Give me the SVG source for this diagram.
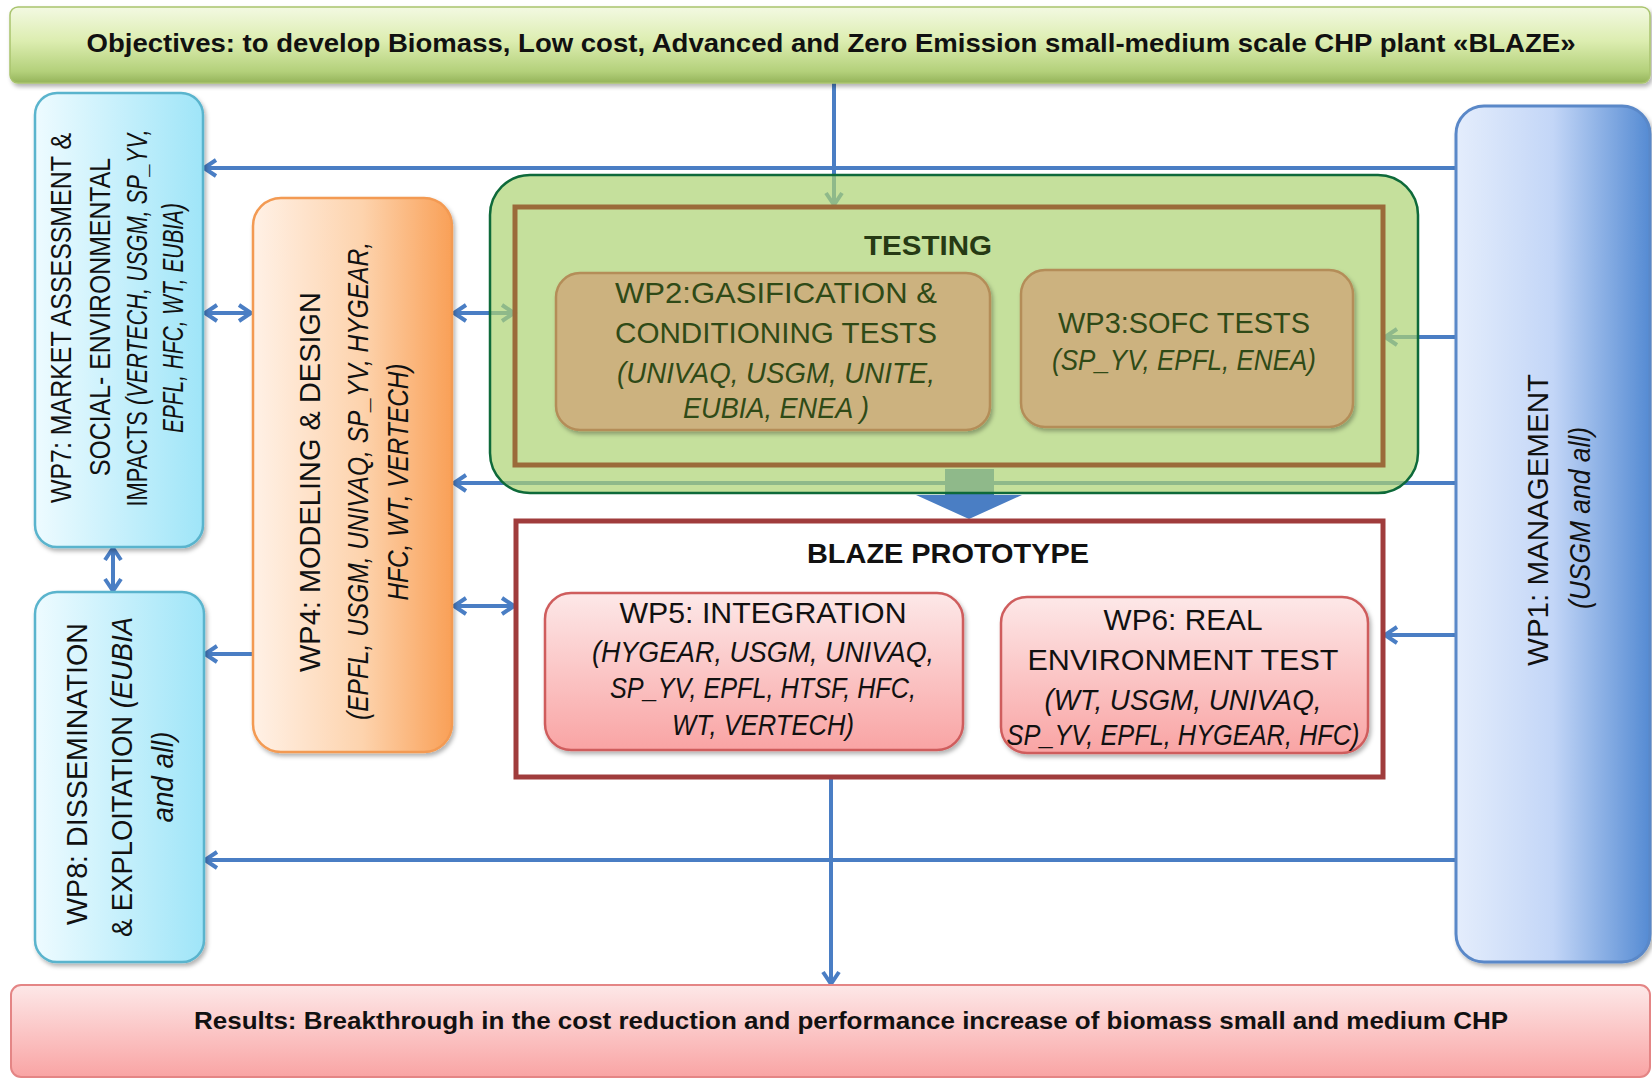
<svg xmlns="http://www.w3.org/2000/svg" width="1652" height="1078" viewBox="0 0 1652 1078">
<defs>
  <linearGradient id="gBanner" x1="0" y1="0" x2="0" y2="1">
    <stop offset="0" stop-color="#f3f9e2"/>
    <stop offset="0.45" stop-color="#dcedb0"/>
    <stop offset="0.85" stop-color="#b3d07a"/>
    <stop offset="1" stop-color="#94b35a"/>
  </linearGradient>
  <linearGradient id="gCyan" x1="0" y1="0" x2="1" y2="0">
    <stop offset="0" stop-color="#eefbff"/>
    <stop offset="1" stop-color="#9fe5f8"/>
  </linearGradient>
  <linearGradient id="gOrange" x1="0" y1="0" x2="1" y2="0">
    <stop offset="0" stop-color="#fff1e6"/>
    <stop offset="0.55" stop-color="#fdd3ad"/>
    <stop offset="1" stop-color="#f9a057"/>
  </linearGradient>
  <linearGradient id="gBlue" x1="0" y1="0" x2="1" y2="0">
    <stop offset="0" stop-color="#e4edfc"/>
    <stop offset="0.5" stop-color="#c3d6f7"/>
    <stop offset="1" stop-color="#558bd3"/>
  </linearGradient>
  <linearGradient id="gPink" x1="0" y1="0" x2="0" y2="1">
    <stop offset="0" stop-color="#fde8e8"/>
    <stop offset="1" stop-color="#f9a4a4"/>
  </linearGradient>
  <filter id="sh" x="-5%" y="-5%" width="115%" height="115%">
    <feDropShadow dx="2" dy="3" stdDeviation="2" flood-color="#000" flood-opacity="0.3"/>
  </filter>
  <marker id="ah" viewBox="0 0 22 20" refX="18" refY="10" markerWidth="22" markerHeight="20" markerUnits="userSpaceOnUse" orient="auto-start-reverse" overflow="visible">
    <path d="M6,2 L18,10 L6,18" fill="none" stroke="#4a7ec4" stroke-width="4"/>
  </marker>
</defs>
<style>
  .t{font-family:"Liberation Sans",Arial,sans-serif;font-size:29px;fill:#111;}
  .i{font-style:italic;}
  .b{font-weight:bold;}
  .g{fill:#2f4a17;}
  .c{stroke:#4a7ec4;stroke-width:4;fill:none;}
  .wpc{fill:url(#gCyan);stroke:#5ab4cd;stroke-width:2.5;}
  .wpp{fill:url(#gPink);stroke:#cf5d5d;stroke-width:2.5;}
  .wpt{fill:#ccb27f;stroke:#b48d58;stroke-width:2.5;}
</style>

<g id="connectors">
  <path class="c" d="M834,83 V205" marker-end="url(#ah)"/>
  <path class="c" d="M1456,168 H204" marker-end="url(#ah)"/>
  <path class="c" d="M205,313 H251" marker-start="url(#ah)" marker-end="url(#ah)"/>
  <path class="c" d="M454,313 H514" marker-start="url(#ah)" marker-end="url(#ah)"/>
  <path class="c" d="M1456,337 H1385" marker-end="url(#ah)"/>
  <path class="c" d="M1456,483 H454" marker-end="url(#ah)"/>
  <polygon points="945,469 994,469 994,495 1022,495 969,519 916,495 945,495" fill="#4a7ec4"/>
  <path class="c" d="M454,606 H514" marker-start="url(#ah)" marker-end="url(#ah)"/>
  <path class="c" d="M253,654 H205" marker-end="url(#ah)"/>
  <path class="c" d="M113,548 V591" marker-start="url(#ah)" marker-end="url(#ah)"/>
  <path class="c" d="M1456,635 H1385" marker-end="url(#ah)"/>
  <path class="c" d="M1456,860 H205" marker-end="url(#ah)"/>
  <path class="c" d="M831,778 V984" marker-end="url(#ah)"/>
</g>

<g id="objectives">
  <rect x="10" y="7" width="1640" height="76" rx="8" fill="url(#gBanner)" stroke="#a9c46e" stroke-width="1.5" filter="url(#sh)"/>
  <text class="t b" style="font-size:26px" x="831" y="52" text-anchor="middle" textLength="1489" lengthAdjust="spacingAndGlyphs">Objectives: to develop Biomass, Low cost, Advanced and Zero Emission small-medium scale CHP plant «BLAZE»</text>
</g>

<g id="wp7">
  <rect class="wpc" x="35" y="93" width="168" height="454" rx="22" filter="url(#sh)"/>
  <text class="t" transform="translate(71,318) rotate(-90)" text-anchor="middle" textLength="370" lengthAdjust="spacingAndGlyphs">WP7: MARKET ASSESSMENT &amp;</text>
  <text class="t" transform="translate(110,317) rotate(-90)" text-anchor="middle" textLength="318" lengthAdjust="spacingAndGlyphs">SOCIAL- ENVIRONMENTAL</text>
  <text class="t" transform="translate(147,318) rotate(-90)" text-anchor="middle" textLength="377" lengthAdjust="spacingAndGlyphs">IMPACTS <tspan class="i">(VERTECH, USGM, SP_YV,</tspan></text>
  <text class="t i" transform="translate(183,318) rotate(-90)" text-anchor="middle" textLength="230" lengthAdjust="spacingAndGlyphs">EPFL, HFC, WT, EUBIA)</text>
</g>

<g id="wp8">
  <rect class="wpc" x="35" y="592" width="169" height="370" rx="22" filter="url(#sh)"/>
  <text class="t" transform="translate(87,774) rotate(-90)" text-anchor="middle" textLength="302" lengthAdjust="spacingAndGlyphs">WP8: DISSEMINATION</text>
  <text class="t" transform="translate(132,777) rotate(-90)" text-anchor="middle" textLength="320" lengthAdjust="spacingAndGlyphs">&amp; EXPLOITATION <tspan class="i">(EUBIA</tspan></text>
  <text class="t i" transform="translate(173,777) rotate(-90)" text-anchor="middle" textLength="91" lengthAdjust="spacingAndGlyphs">and all)</text>
</g>

<g id="wp4">
  <rect x="253" y="198" width="199" height="554" rx="28" fill="url(#gOrange)" stroke="#f39a52" stroke-width="2.5" filter="url(#sh)"/>
  <text class="t" transform="translate(320,482) rotate(-90)" text-anchor="middle" textLength="380" lengthAdjust="spacingAndGlyphs">WP4: MODELING &amp; DESIGN</text>
  <text class="t i" transform="translate(368,481) rotate(-90)" text-anchor="middle" textLength="478" lengthAdjust="spacingAndGlyphs">(EPFL, USGM, UNIVAQ, SP_YV, HYGEAR,</text>
  <text class="t i" transform="translate(408,482) rotate(-90)" text-anchor="middle" textLength="237" lengthAdjust="spacingAndGlyphs">HFC, WT, VERTECH)</text>
</g>

<g id="wp1">
  <rect x="1456" y="106" width="194" height="856" rx="28" fill="url(#gBlue)" stroke="#5a88c8" stroke-width="3" filter="url(#sh)"/>
  <text class="t" transform="translate(1548,520) rotate(-90)" text-anchor="middle" textLength="292" lengthAdjust="spacingAndGlyphs">WP1: MANAGEMENT</text>
  <text class="t i" transform="translate(1590,518) rotate(-90)" text-anchor="middle" textLength="182" lengthAdjust="spacingAndGlyphs">(USGM and all)</text>
</g>

<g id="testing">
  <rect x="490" y="175" width="928" height="318" rx="40" fill="#acd372" fill-opacity="0.7" stroke="#0e6a3a" stroke-width="2.5"/>
  <rect x="515" y="207" width="868" height="258" fill="none" stroke="#9b6b3a" stroke-width="5"/>
  <text class="t b" style="font-size:28px;fill:#263a14" x="928" y="255" text-anchor="middle" textLength="128" lengthAdjust="spacingAndGlyphs">TESTING</text>
</g>

<g id="wp2">
  <rect class="wpt" x="556" y="273" width="434" height="157" rx="24" filter="url(#sh)"/>
  <text class="t g" x="776" y="303" text-anchor="middle" textLength="322" lengthAdjust="spacingAndGlyphs">WP2:GASIFICATION &amp;</text>
  <text class="t g" x="776" y="343" text-anchor="middle" textLength="322" lengthAdjust="spacingAndGlyphs">CONDITIONING TESTS</text>
  <text class="t g i" x="776" y="383" text-anchor="middle" textLength="318" lengthAdjust="spacingAndGlyphs">(UNIVAQ, USGM, UNITE,</text>
  <text class="t g i" x="776" y="418" text-anchor="middle" textLength="186" lengthAdjust="spacingAndGlyphs">EUBIA, ENEA )</text>
</g>

<g id="wp3">
  <rect class="wpt" x="1021" y="270" width="332" height="157" rx="24" filter="url(#sh)"/>
  <text class="t g" x="1184" y="333" text-anchor="middle" textLength="252" lengthAdjust="spacingAndGlyphs">WP3:SOFC TESTS</text>
  <text class="t g i" x="1184" y="370" text-anchor="middle" textLength="264" lengthAdjust="spacingAndGlyphs">(SP_YV, EPFL, ENEA)</text>
</g>

<g id="blaze">
  <rect x="516" y="521" width="867" height="256" fill="#fff" stroke="#a03c3c" stroke-width="5"/>
  <text class="t b" style="font-size:28px" x="948" y="563" text-anchor="middle" textLength="282" lengthAdjust="spacingAndGlyphs">BLAZE PROTOTYPE</text>
</g>

<g id="wp5">
  <rect class="wpp" x="545" y="593" width="418" height="157" rx="26" filter="url(#sh)"/>
  <text class="t" x="763" y="623" text-anchor="middle" textLength="287" lengthAdjust="spacingAndGlyphs">WP5: INTEGRATION</text>
  <text class="t i" x="763" y="662" text-anchor="middle" textLength="342" lengthAdjust="spacingAndGlyphs">(HYGEAR, USGM, UNIVAQ,</text>
  <text class="t i" x="763" y="698" text-anchor="middle" textLength="306" lengthAdjust="spacingAndGlyphs">SP_YV, EPFL, HTSF, HFC,</text>
  <text class="t i" x="763" y="735" text-anchor="middle" textLength="182" lengthAdjust="spacingAndGlyphs">WT, VERTECH)</text>
</g>

<g id="wp6">
  <rect class="wpp" x="1001" y="597" width="367" height="156" rx="26" filter="url(#sh)"/>
  <text class="t" x="1183" y="630" text-anchor="middle" textLength="159" lengthAdjust="spacingAndGlyphs">WP6: REAL</text>
  <text class="t" x="1183" y="670" text-anchor="middle" textLength="311" lengthAdjust="spacingAndGlyphs">ENVIRONMENT TEST</text>
  <text class="t i" x="1183" y="710" text-anchor="middle" textLength="277" lengthAdjust="spacingAndGlyphs">(WT, USGM, UNIVAQ,</text>
  <text class="t i" x="1183" y="745" text-anchor="middle" textLength="353" lengthAdjust="spacingAndGlyphs">SP_YV, EPFL, HYGEAR, HFC)</text>
</g>

<g id="results">
  <rect x="11" y="985" width="1639" height="92" rx="10" fill="url(#gPink)" stroke="#e48585" stroke-width="2"/>
  <text class="t b" style="font-size:24px" x="851" y="1029" text-anchor="middle" textLength="1314" lengthAdjust="spacingAndGlyphs">Results: Breakthrough in the cost reduction and performance increase of biomass small and medium CHP</text>
</g>
</svg>
